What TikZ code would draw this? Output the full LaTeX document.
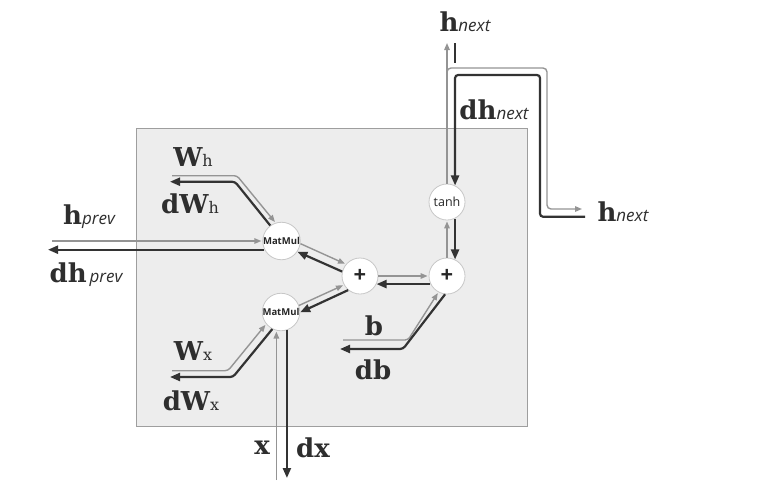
\documentclass[tikz,border=0pt]{standalone}
\usepackage{fontspec}
\setmainfont{DejaVu Serif}
\newfontfamily\subit{Open Sans}
\newfontfamily\nodef{Open Sans}
\usetikzlibrary{arrows.meta,calc}
\newcommand\Lb[2]{{\fontsize{26}{26}\selectfont\bfseries #1}{\fontsize{17}{17}\selectfont\subit\itshape #2}}
\newcommand\Lw[2]{{\fontsize{26}{26}\selectfont\bfseries #1}{\fontsize{16}{16}\selectfont #2}}
\newcommand\Lo[1]{{\fontsize{26}{26}\selectfont\bfseries #1}}
\tikzset{
  fwd/.style={draw=black!42, line width=1.4pt, rounded corners=3pt, -{Triangle[length=7pt,width=5.5pt]}},
  fwdline/.style={draw=black!42, line width=1.4pt, rounded corners=4pt},
  bwd/.style={draw=black!80, line width=2.2pt, rounded corners=3pt, -{Triangle[length=10pt,width=8pt]}},
  bwdline/.style={draw=black!80, line width=2.2pt, rounded corners=4pt},
  op/.style={circle, draw=black!22, line width=0.8pt, fill=white, minimum size=36pt, inner sep=0pt, text=black!85},
  lbl/.style={text=black!82, inner sep=0pt},
  boxst/.style={draw=black!38, line width=0.8pt, fill=black!7}
}
\begin{document}
\begin{tikzpicture}[x=1pt,y=-1pt]
\useasboundingbox (0,0) rectangle (783,491);
\draw[boxst] (136.5,128) rectangle (527,426.5);

% operation nodes
\node[op] (mh) at (281.5,241) {\nodef\fontsize{9.5}{9.5}\selectfont\bfseries MatMul};
\node[op] (mx) at (281,312) {\nodef\fontsize{9.5}{9.5}\selectfont\bfseries MatMul};
\node[op] (p1) at (360,276) {\nodef\fontsize{22}{22}\selectfont\bfseries +};
\node[op] (p2) at (447,276) {\nodef\fontsize{22}{22}\selectfont\bfseries +};
\node[op] (tn) at (447,202) {\nodef\fontsize{12.5}{12.5}\selectfont tanh};

% free ends
\coordinate (hpG) at (52,241);
\coordinate (hpD) at (48,249);
\coordinate (whG1) at (172,175.7);
\coordinate (whG2) at (237,175.7);
\coordinate (whD2) at (235,181.7);
\coordinate (whD1) at (170,181.7);
\coordinate (wxG1) at (172,370.7);
\coordinate (wxG2) at (228,370.7);
\coordinate (wxD2) at (233,377);
\coordinate (wxD1) at (170,377);
\coordinate (xG) at (0,480);
\coordinate (xD) at (0,478);
\coordinate (bG1) at (343,340);
\coordinate (bG2) at (408,340);
\coordinate (bD2) at (403,349);
\coordinate (bD1) at (340,349);
\coordinate (tT) at (0,43);
\coordinate (tS) at (0,63);
\coordinate (rG0) at (447,90);
\coordinate (rG1) at (447,68);
\coordinate (rG2) at (547,68);
\coordinate (rG3) at (547,209);
\coordinate (rG4) at (582,209);
\coordinate (rD4) at (585,216.7);
\coordinate (rD3) at (540,216.7);
\coordinate (rD2) at (540,75);

% h_prev
\draw[fwd, shorten >=1pt] (hpG) -- (mh.180);
\draw[bwd] (mh.207) -- (mh.207 -| hpD);
% W_h
\draw[fwd, shorten >=1pt] (whG1) -- (whG2) -- (mh.108);
\draw[bwd] (mh.126) -- (whD2) -- (whD1);
% W_x
\draw[fwd, shorten >=1pt] (wxG1) -- (wxG2) -- (mx.219);
\draw[bwd] (mx.243) -- (wxD2) -- (wxD1);
% x
\draw[fwd, shorten >=1pt] (mx.256 |- xG) -- (mx.256);
\draw[bwd] (mx.288) -- (mx.288 |- xD);
% MatMul -> +
\draw[fwd, shorten >=1pt] (mh.-8) -- (p1.140);
\draw[bwd] (p1.166) -- (mh.-34);
\draw[fwd, shorten >=1pt] (mx.20) -- (p1.209);
\draw[bwd] (p1.230) -- (mx.-1.5);
% + <-> +
\draw[fwd, shorten >=1pt] (p1.0) -- (p2.180);
\draw[bwd] (p2.206) -- (p1.334);
% b
\draw[fwd, shorten >=1pt] (bG1) -- (bG2) -- (p2.242);
\draw[bwd] (p2.264) -- (bD2) -- (bD1);
% + -> tanh
\draw[fwd, shorten >=1pt] (p2.90) -- (tn.270);
\draw[bwd] (tn.-64) -- (p2.64);
% tanh -> h_next
\draw[fwd] (tn.90) -- (tn.90 |- tT);
\draw[fwdline, -{Triangle[length=7pt,width=5.5pt]}] (rG0) -- (rG1) -- (rG2) -- (rG3) -- (rG4);
\draw[bwdline] (tn.64 |- tT) -- (tn.64 |- tS);
\draw[bwd] (rD4) -- (rD3) -- (rD2) -- (tn.64 |- rD2) -- (tn.64);

% labels
\node[lbl] (lhp) at (89,217) {\Lb{h}{prev}};
\node[lbl] (ldhp) at (86,275) {\Lb{dh}{\,prev}};
\node[lbl] (lwh) at (193,157) {\Lw{W}{h}};
\node[lbl] (ldwh) at (190,204) {\Lw{dW}{h}};
\node[lbl] (lwx) at (193,351) {\Lw{W}{x}};
\node[lbl] (ldwx) at (191,401) {\Lw{dW}{x}};
\node[lbl] (lb) at (374,326) {\Lo{b}};
\node[lbl] (ldb) at (373,370) {\Lo{db}};
\node[lbl] (lx) at (262,448) {\Lo{x}};
\node[lbl] (ldx) at (313,448) {\Lo{dx}};
\node[lbl] (lhn) at (465,22) {\Lb{h}{next}};
\node[lbl] (ldhn) at (494,110) {\Lb{dh}{next}};
\node[lbl] (lhn2) at (623,212) {\Lb{h}{next}};
\end{tikzpicture}
\end{document}
